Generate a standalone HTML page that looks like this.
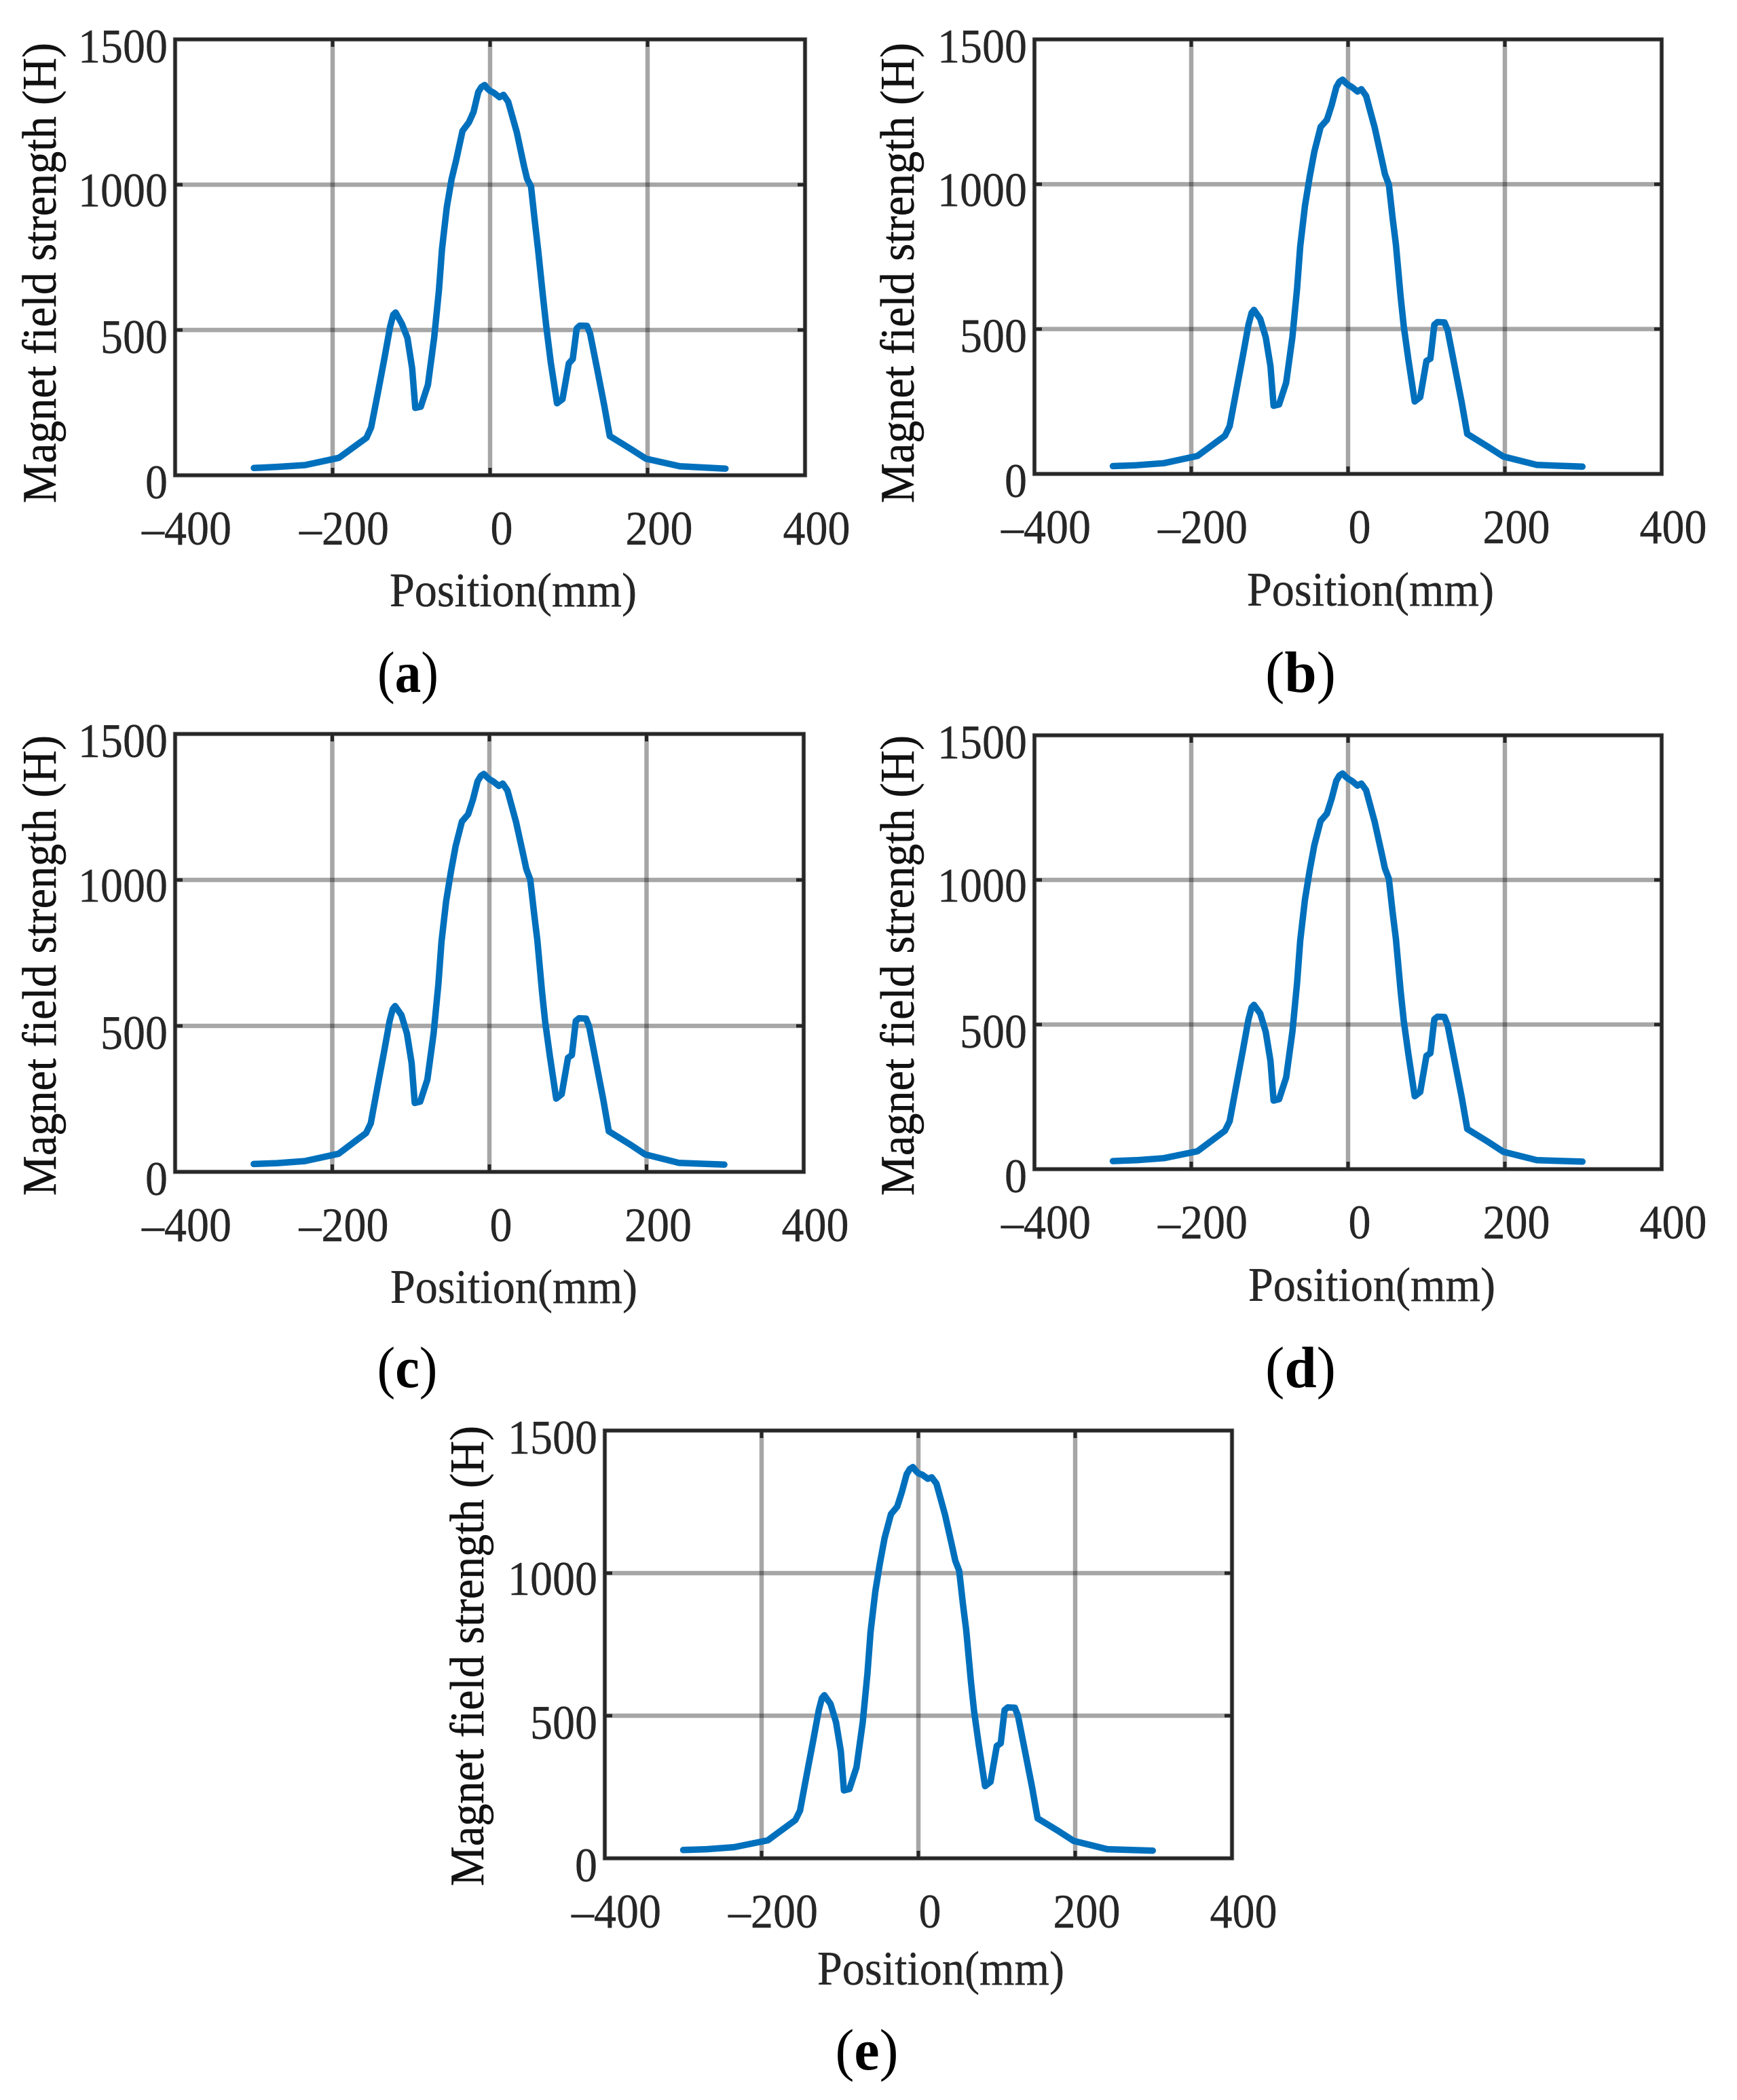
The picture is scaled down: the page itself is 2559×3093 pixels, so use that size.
<!DOCTYPE html>
<html>
<head>
<meta charset="utf-8">
<title>Magnet field strength vs position</title>
<style>
html,body{margin:0;padding:0;background:#fff;}
svg{display:block;}
text{font-family:"Liberation Serif",serif;}
.ylab{font-size:71px;fill:#111;stroke:#111;stroke-width:0.5px;}
.xlab{font-size:71px;fill:#262626;stroke:#262626;stroke-width:0.4px;}
.cap{font-size:86px;fill:#000;}
.tick{font-size:71px;fill:#262626;stroke:#262626;stroke-width:0.4px;}
</style>
</head>
<body>
<svg id="figure" xmlns="http://www.w3.org/2000/svg" width="2559" height="3093" viewBox="0 0 2559 3093">
  <rect width="2559" height="3093" fill="#fff"/>
  <g id="panel-a"></g>
  <g id="panel-b"></g>
  <g id="panel-c"></g>
  <g id="panel-d"></g>
  <g id="panel-e"></g>

  <text class="ylab" transform="translate(82,741) rotate(-90)" textLength="678" lengthAdjust="spacingAndGlyphs">Magnet field strength (H)</text>
  <text class="xlab" x="574" y="893" textLength="364" lengthAdjust="spacingAndGlyphs">Position(mm)</text>
  <text class="cap" x="601" y="1019" text-anchor="middle" textLength="90" lengthAdjust="spacingAndGlyphs">(<tspan font-weight="bold">a</tspan>)</text>

  <text class="ylab" transform="translate(1346,741) rotate(-90)" textLength="678" lengthAdjust="spacingAndGlyphs">Magnet field strength (H)</text>
  <text class="xlab" x="1837" y="892" textLength="364" lengthAdjust="spacingAndGlyphs">Position(mm)</text>
  <text class="cap" x="1916" y="1019" text-anchor="middle" textLength="104" lengthAdjust="spacingAndGlyphs">(<tspan font-weight="bold">b</tspan>)</text>

  <text class="ylab" transform="translate(82,1761) rotate(-90)" textLength="678" lengthAdjust="spacingAndGlyphs">Magnet field strength (H)</text>
  <text class="xlab" x="575" y="1919" textLength="364" lengthAdjust="spacingAndGlyphs">Position(mm)</text>
  <text class="cap" x="600" y="2043" text-anchor="middle" textLength="89" lengthAdjust="spacingAndGlyphs">(<tspan font-weight="bold">c</tspan>)</text>

  <text class="ylab" transform="translate(1346,1761) rotate(-90)" textLength="678" lengthAdjust="spacingAndGlyphs">Magnet field strength (H)</text>
  <text class="xlab" x="1839" y="1916" textLength="364" lengthAdjust="spacingAndGlyphs">Position(mm)</text>
  <text class="cap" x="1916" y="2043" text-anchor="middle" textLength="104" lengthAdjust="spacingAndGlyphs">(<tspan font-weight="bold">d</tspan>)</text>

  <text class="ylab" transform="translate(712,2778) rotate(-90)" textLength="678" lengthAdjust="spacingAndGlyphs">Magnet field strength (H)</text>
  <text class="xlab" x="1204" y="2923" textLength="364" lengthAdjust="spacingAndGlyphs">Position(mm)</text>
  <text class="cap" x="1277" y="3048" text-anchor="middle" textLength="93" lengthAdjust="spacingAndGlyphs">(<tspan font-weight="bold">e</tspan>)</text>
</svg>

<script>
var xTicks = [-400, -200, 0, 200, 400];
var xTickLabels = ['–400', '–200', '0', '200', '400'];
var yTicks = [0, 500, 1000, 1500];
var yTickLabels = ['0', '500', '1000', '1500'];

var positions = [-300,-270,-235,-192,-157,-151,-142,-134,-127,-123,-120,-112,-105,-99,-95,-88,-79,-71,-65,-61,-55,-49,-43,-35,-27,-21,-15,-11,-7,-3,0,5,12,17,23,34,43,47,52,57,61,67,71,77,85,92,100,105,110,114,123,127,136,145,152,179,198,241,299];

var fieldA = [25,29,35,60,129,165,291,406,511,552,560,521,473,368,232,236,311,473,635,779,922,1018,1085,1185,1214,1250,1319,1336,1343,1330,1323,1316,1301,1309,1285,1180,1065,1020,994,870,775,620,520,390,248,262,385,400,505,515,514,488,365,240,135,90,57,31,23];
var fieldB = [27,30,37,62,132,165,295,410,515,556,566,535,472,372,235,240,315,472,640,785,925,1025,1112,1198,1222,1272,1335,1354,1361,1350,1343,1335,1320,1328,1305,1195,1085,1035,999,880,792,613,511,394,250,265,390,398,515,524,523,496,371,246,138,93,60,31,25];
var fieldC = [27,30,37,62,133,166,297,412,517,558,568,537,474,373,236,241,316,474,642,788,928,1028,1115,1200,1225,1275,1338,1356,1363,1352,1345,1337,1322,1330,1306,1197,1087,1037,1001,882,794,615,513,396,251,266,391,400,517,526,525,497,372,247,139,94,60,31,25];
var fieldD = [28,31,38,62,133,166,298,413,518,559,568,538,475,374,237,242,317,475,644,790,932,1032,1120,1204,1229,1280,1343,1361,1368,1357,1350,1342,1326,1333,1310,1200,1090,1040,1004,885,796,617,514,397,252,267,392,401,518,527,526,498,373,248,139,94,60,31,26];
var fieldE = [29,32,39,63,134,167,300,415,520,562,572,541,477,376,238,243,319,477,647,793,935,1036,1124,1207,1233,1285,1347,1365,1372,1358,1350,1345,1331,1336,1314,1204,1094,1044,1008,888,799,620,517,399,253,268,394,403,520,529,528,500,375,249,140,95,61,32,27];

var panels = [
  {id:'panel-a', values:fieldA, left:258,  right:1186, top:58,   bottom:700},
  {id:'panel-b', values:fieldB, left:1524, right:2448, top:58,   bottom:698},
  {id:'panel-c', values:fieldC, left:258,  right:1184, top:1081, bottom:1726},
  {id:'panel-d', values:fieldD, left:1524, right:2448, top:1083, bottom:1722},
  {id:'panel-e', values:fieldE, left:891,  right:1815, top:2107, bottom:2737}
];

var NS = 'http://www.w3.org/2000/svg';
function mk(parent, tag, attrs) {
  var el = document.createElementNS(NS, tag);
  for (var k in attrs) el.setAttribute(k, attrs[k]);
  parent.appendChild(el);
  return el;
}

panels.forEach(function (p) {
  var g = document.getElementById(p.id);
  var xScale = function (v) { return p.left + (v + 400) / 800 * (p.right - p.left); };
  var yScale = function (v) { return p.bottom - v / 1500 * (p.bottom - p.top); };

  // grid
  xTicks.forEach(function (v) {
    if (v === -400 || v === 400) return;
    var gl = mk(g, 'line', {x1:xScale(v), x2:xScale(v), y1:p.top, y2:p.bottom, stroke:'#000', 'stroke-opacity':0.35, 'stroke-width':6.5});
    
    
  });
  yTicks.forEach(function (v) {
    if (v === 0 || v === 1500) return;
    var gl = mk(g, 'line', {x1:p.left, x2:p.right, y1:yScale(v), y2:yScale(v), stroke:'#000', 'stroke-opacity':0.35, 'stroke-width':6.5});
    
    
  });

  // series
  var d = positions.map(function (x, i) {
    return (i ? 'L' : 'M') + xScale(x).toFixed(1) + ' ' + yScale(p.values[i]).toFixed(1);
  }).join(' ');
  var line = mk(g, 'path', {d:d, fill:'none', stroke:'#0070bd', 'stroke-width':9.5, 'stroke-linejoin':'round', 'stroke-linecap':'round'});
  
  

  // axes box
  var halo = mk(g, 'rect', {x:p.left, y:p.top, width:p.right - p.left, height:p.bottom - p.top, fill:'none', stroke:'#a0a0a0', 'stroke-width':6.5});
  
  
  var box = mk(g, 'rect', {x:p.left, y:p.top, width:p.right - p.left, height:p.bottom - p.top, fill:'none', stroke:'#262626', 'stroke-width':5});
  
  

  // ticks + labels
  xTicks.forEach(function (v, i) {
    if (v !== -400 && v !== 400) {
      var t1 = mk(g, 'line', {x1:xScale(v), x2:xScale(v), y1:p.bottom, y2:p.bottom - 11, stroke:'#262626', 'stroke-width':5});
      
      
      var t2 = mk(g, 'line', {x1:xScale(v), x2:xScale(v), y1:p.top, y2:p.top + 11, stroke:'#262626', 'stroke-width':5});
      
      
    }
    var s = xTickLabels[i];
    var tx = mk(g, 'text', {'class':'tick', x:xScale(v) + 17, y:p.bottom + 102, 'text-anchor':'middle', textLength:s.length * 33, lengthAdjust:'spacingAndGlyphs'});
    tx.textContent = s;
    
    
  });
  yTicks.forEach(function (v, i) {
    if (v !== 0 && v !== 1500) {
      var t1 = mk(g, 'line', {x1:p.left, x2:p.left + 11, y1:yScale(v), y2:yScale(v), stroke:'#262626', 'stroke-width':5});
      
      
      var t2 = mk(g, 'line', {x1:p.right, x2:p.right - 11, y1:yScale(v), y2:yScale(v), stroke:'#262626', 'stroke-width':5});
      
      
    }
    var s = yTickLabels[i];
    var ty = mk(g, 'text', {'class':'tick', x:p.left - 11, y:yScale(v) + (v === 1000 ? 32 : 34), 'text-anchor':'end', textLength:s.length * 33, lengthAdjust:'spacingAndGlyphs'});
    ty.textContent = s;
    
    
  });
});
</script>
</body>
</html>
